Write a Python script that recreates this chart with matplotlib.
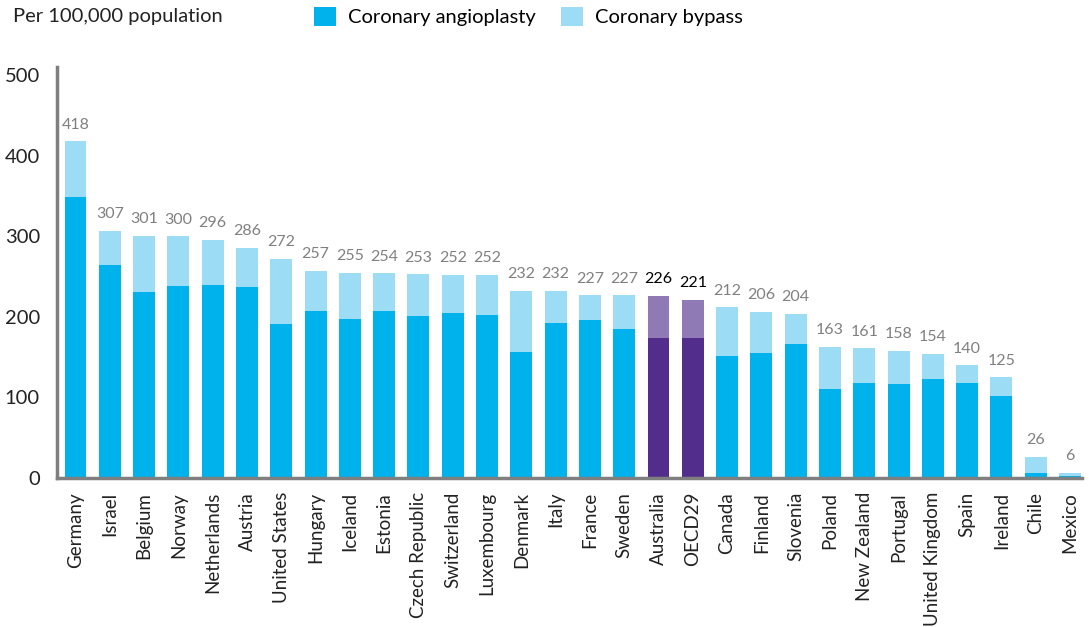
import numpy as np
import matplotlib.pyplot as plt

countries = ["Germany", "Israel", "Belgium", "Norway", "Netherlands", "Austria",
             "United States", "Hungary", "Iceland", "Estonia", "Czech Republic",
             "Switzerland", "Luxembourg", "Denmark", "Italy", "France", "Sweden",
             "Australia", "OECD29", "Canada", "Finland", "Slovenia", "Poland",
             "New Zealand", "Portugal", "United Kingdom", "Spain", "Ireland",
             "Chile", "Mexico"]
totals = [418, 307, 301, 300, 296, 286, 272, 257, 255, 254, 253, 252, 252, 232,
          232, 227, 227, 226, 221, 212, 206, 204, 163, 161, 158, 154, 140, 125,
          26, 6]
angioplasty = [349, 264, 231, 238, 240, 237, 191, 208, 197, 208, 201, 205, 203,
               156, 192, 196, 185, 174, 174, 151, 155, 166, 110, 118, 117, 123,
               118, 102, 6, 3]
bypass = [t - a for t, a in zip(totals, angioplasty)]
highlight = ["Australia", "OECD29"]

c_ang = "#00b2ec"
c_byp = "#9ddcf5"
c_ang_h = "#532d8c"
c_byp_h = "#8f7ab5"

plt.rcParams['font.family'] = ['Lato', 'DejaVu Sans']

fig = plt.figure(figsize=(10.89, 6.27), dpi=100)
ax = fig.add_axes([0.052, 0.2376, 0.9416, 0.655])

x = np.arange(len(countries))
ang_colors = [c_ang_h if c in highlight else c_ang for c in countries]
byp_colors = [c_byp_h if c in highlight else c_byp for c in countries]

ax.bar(x, angioplasty, width=0.64, color=ang_colors, label="Coronary angioplasty")
ax.bar(x, bypass, bottom=angioplasty, width=0.64, color=byp_colors, label="Coronary bypass")

for xi, t, c in zip(x, totals, countries):
    col = "black" if c in highlight else "#808080"
    ax.annotate(str(t), (xi, t), xytext=(0, 7), textcoords="offset points",
                ha="center", va="bottom", fontsize=11.5, color=col)

ax.set_xlim(-0.55, 29.35)
ax.set_ylim(0, 510)
ax.set_yticks([0, 100, 200, 300, 400, 500])
ax.set_xticks(x)
ax.set_xticklabels(countries, rotation=90, fontsize=13.5, color="#222222")
ax.tick_params(axis="y", labelsize=14.5, colors="#222222", length=0, pad=12)
ax.tick_params(axis="x", length=0, pad=10)

for s in ["top", "right"]:
    ax.spines[s].set_visible(False)
for s in ["left", "bottom"]:
    ax.spines[s].set_color("#7f7f7f")
    ax.spines[s].set_linewidth(2.5)

fig.text(0.012, 0.974, "Per 100,000 population", fontsize=14.5, color="#222222",
         ha="left", va="center")

handles, labels = ax.get_legend_handles_labels()
fig.legend(handles, labels, loc="center left", bbox_to_anchor=(0.281, 0.974),
           ncol=2, frameon=False, fontsize=14.5, handlelength=1.1, handleheight=1.1,
           handletextpad=0.6, columnspacing=1.25, borderaxespad=0)

fig.savefig("out.png", dpi=100)
